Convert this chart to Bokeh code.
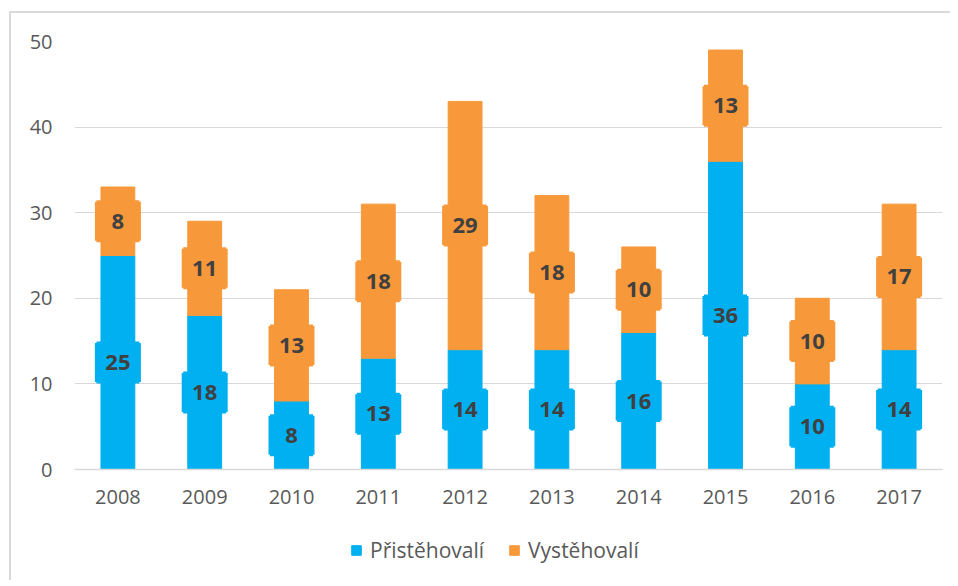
from bokeh.plotting import figure
from bokeh.layouts import column
from bokeh.models import (ColumnDataSource, FactorRange, Range1d, FixedTicker,
                          Legend, LegendItem)
from bokeh.core.properties import value
from bokeh.embed import file_html
from bokeh.resources import INLINE

years = ["2008", "2009", "2010", "2011", "2012", "2013", "2014", "2015", "2016", "2017"]
prist = [25, 18, 8, 13, 14, 14, 16, 36, 10, 14]
vyst = [8, 11, 13, 18, 29, 18, 10, 13, 10, 17]
y_ticks = [0, 10, 20, 30, 40, 50]
series_names = ["Přistěhovalí", "Vystěhovalí"]

BLUE = "#00B0F0"
ORANGE = "#F7993A"
FONT = "Open Sans"

top = [a + b for a, b in zip(prist, vyst)]
src = ColumnDataSource(dict(
    x=years, prist=prist, vyst=vyst, top=top,
    pmid=[a / 2 for a in prist],
    vmid=[a + b / 2 for a, b in zip(prist, vyst)],
    plab=[str(v) for v in prist], vlab=[str(v) for v in vyst],
))

p = figure(width=939, height=506, x_range=FactorRange(*years), y_range=Range1d(0, 50),
           output_backend="svg", toolbar_location=None,
           min_border_left=63, min_border_right=8, min_border_top=28, min_border_bottom=50)
p.outline_line_color = None
p.background_fill_color = "white"
p.border_fill_color = "white"

r1 = p.vbar(x="x", top="prist", bottom=0, width=0.39, color=BLUE, source=src)
r2 = p.vbar(x="x", top="top", bottom="prist", width=0.39, color=ORANGE, source=src)

for ycol, col in (("pmid", BLUE), ("vmid", ORANGE)):
    p.rect(x="x", y=ycol, width=46, height=39, width_units="screen", height_units="screen",
           fill_color=col, line_color=None, source=src)
    p.rect(x="x", y=ycol, width=43, height=42, width_units="screen", height_units="screen",
           fill_color=col, line_color=None, source=src)
for ycol, lab in (("pmid", "plab"), ("vmid", "vlab")):
    p.text(x="x", y=ycol, text=lab, source=src, text_align="center", text_baseline="middle",
           text_font=value(FONT), text_font_style="bold", text_font_size="22px",
           text_color="#404040")

p.xgrid.grid_line_color = None
p.ygrid.grid_line_color = "#D9D9D9"
p.ygrid.grid_line_width = 1
p.yaxis.ticker = FixedTicker(ticks=y_ticks)

for ax in (p.xaxis, p.yaxis):
    ax.major_tick_line_color = None
    ax.minor_tick_line_color = None
    ax.major_tick_out = 0
    ax.major_tick_in = 0
    ax.major_label_text_font = FONT
    ax.major_label_text_font_size = "20px"
    ax.major_label_text_color = "#595959"
p.yaxis.axis_line_color = None
p.yaxis.major_label_standoff = 22
p.xaxis.axis_line_color = "#D9D9D9"
p.xaxis.axis_line_width = 1.5
p.xaxis.major_label_standoff = 20

# legend strip
lp = figure(width=939, height=61, x_range=Range1d(0, 1), y_range=Range1d(0, 1),
            output_backend="svg", toolbar_location=None,
            min_border_left=0, min_border_right=0, min_border_top=0, min_border_bottom=0)
lp.axis.visible = False
lp.grid.visible = False
lp.outline_line_color = None
lp.border_fill_color = "white"
d1 = lp.vbar(x=[-5], top=[0], width=0.1, color=BLUE)
d2 = lp.vbar(x=[-5], top=[0], width=0.1, color=ORANGE)

legend = Legend(items=[LegendItem(label=series_names[0], renderers=[d1]),
                       LegendItem(label=series_names[1], renderers=[d2])],
                orientation="horizontal", location=(276, 16))
legend.border_line_color = None
legend.background_fill_alpha = 0
legend.padding = 0
legend.margin = 0
legend.spacing = 24
legend.glyph_width = 12
legend.glyph_height = 12
legend.label_height = 20
legend.label_standoff = 8
legend.label_text_font = FONT
legend.label_text_font_size = "21px"
legend.label_text_color = "#595959"
lp.add_layout(legend)

layout = column(p, lp, margin=(11, 0, 0, 9), spacing=0,
                styles={"border-left": "2px solid #D9D9D9", "border-top": "2px solid #D9D9D9"})

open("out.html", "w").write(file_html(layout, INLINE))
